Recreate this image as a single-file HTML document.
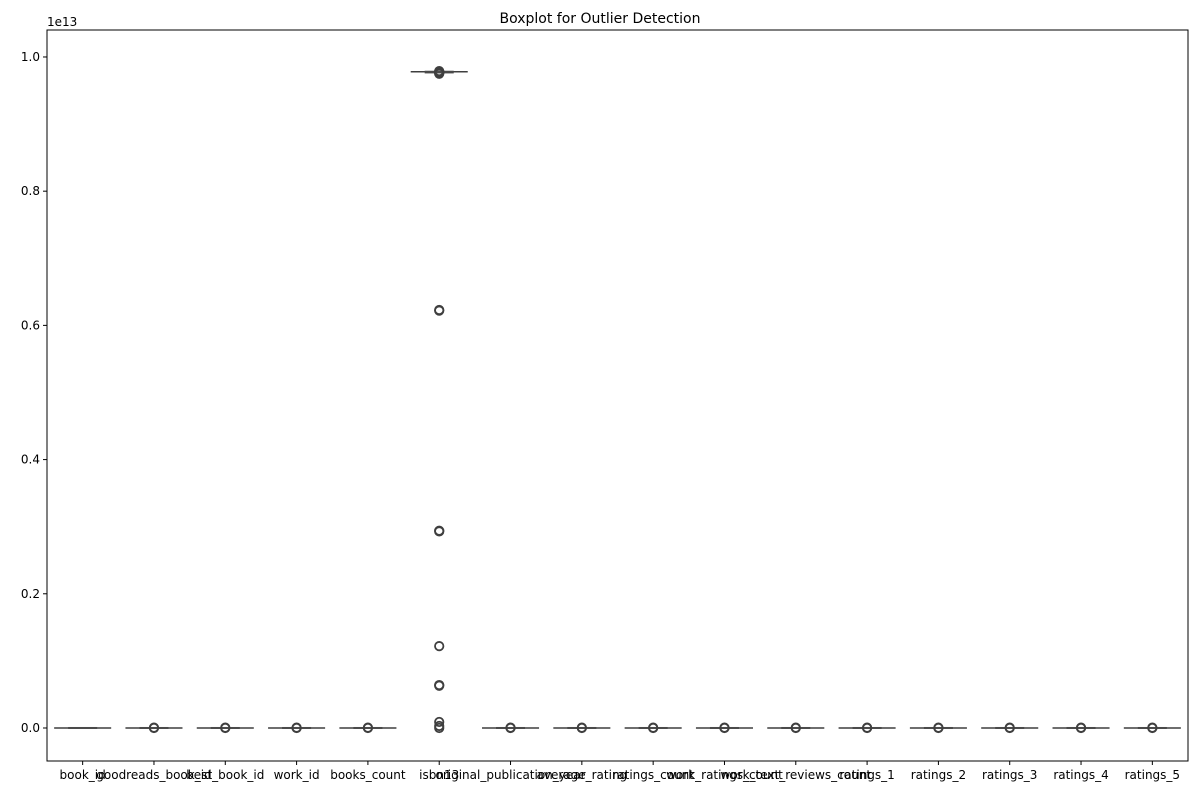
<!DOCTYPE html>
<html><head><meta charset="utf-8"><style>
body{margin:0;background:#fff;font-family:"Liberation Sans","DejaVu Sans",sans-serif}
svg text{font-family:"DejaVu Sans","Liberation Sans",sans-serif}
</style></head><body>
<svg id="chart" width="1200" height="800" xmlns="http://www.w3.org/2000/svg">
<rect width="1200" height="800" fill="#fff"/>
<text x="600" y="23" text-anchor="middle" font-size="14">Boxplot for Outlier Detection</text>
<text x="47" y="26" font-size="12">1e13</text>
<g id="plot"></g>
</svg>
<script>
const categories=["book_id","goodreads_book_id","best_book_id","work_id","books_count","isbn13","original_publication_year","average_rating","ratings_count","work_ratings_count","work_text_reviews_count","ratings_1","ratings_2","ratings_3","ratings_4","ratings_5"];
const medians=[0,0,0,0,0,9.78,0,0,0,0,0,0,0,0,0,0];
const q1s=[0,0,0,0,0,9.77,0,0,0,0,0,0,0,0,0,0];
const q3s=[0,0,0,0,0,9.78,0,0,0,0,0,0,0,0,0,0];
const outliers=[[],[0,0.005],[0,0.005],[0,0.005],[0,0.005],[9.75,9.76,9.77,9.78,9.79,6.22,6.23,2.93,2.94,1.22,0.63,0.64,0.09,0.03,0.0],[0,0.005],[0,0.005],[0,0.005],[0,0.005],[0,0.005],[0,0.005],[0,0.005],[0,0.005],[0,0.005],[0,0.005]];
const yTicks=[0,0.2,0.4,0.6,0.8,1.0];
const yTickLabels=["0.0","0.2","0.4","0.6","0.8","1.0"];
const L=47,R=1188,T=30,B=761,ymin=-0.0492,ymax=1.0402;
const ns="http://www.w3.org/2000/svg";
const g=document.getElementById('plot');
const y=v=>B-(v/10-ymin)/(ymax-ymin)*(B-T);
const step=(R-L)/categories.length;
const x=i=>L+step*(i+0.5);
function mk(t,a){const e=document.createElementNS(ns,t);for(const k in a)e.setAttribute(k,a[k]);g.appendChild(e);return e;}
yTicks.forEach((t,i)=>{
 const tk=mk('line',{x1:L-4,x2:L,y1:y(t*10),y2:y(t*10),stroke:'#000'});
 
 
 const lb=mk('text',{x:L-7,y:y(t*10)+4,'text-anchor':'end','font-size':12});
 lb.textContent=yTickLabels[i];
 
 
});
categories.forEach((c,i)=>{
 const cx=x(i),w=step*0.8;
 const wl=mk('line',{x1:cx-w/2,x2:cx+w/2,y1:y(medians[i]),y2:y(medians[i]),stroke:'#3f3f3f','stroke-width':1.5});
 
 
 const bx=mk('rect',{x:cx-w/2+14,y:y(q3s[i])-1,width:w-28,height:Math.max(2,y(q1s[i])-y(q3s[i])+2),fill:'#4a4a4a'});
 
 
 outliers[i].forEach(o=>{
  const p=mk('circle',{cx:cx,cy:y(o),r:4.2,fill:'none',stroke:'#3f3f3f','stroke-width':1.8});
  
  
 });
 const tk=mk('line',{x1:cx,x2:cx,y1:B,y2:B+4,stroke:'#000'});
 
 
 const lb=mk('text',{x:cx,y:B+18,'text-anchor':'middle','font-size':12});
 lb.textContent=c;
 
 
});
const fr=mk('rect',{x:L,y:T,width:R-L,height:B-T,fill:'none',stroke:'#000','stroke-width':1});


</script>
</body></html>
